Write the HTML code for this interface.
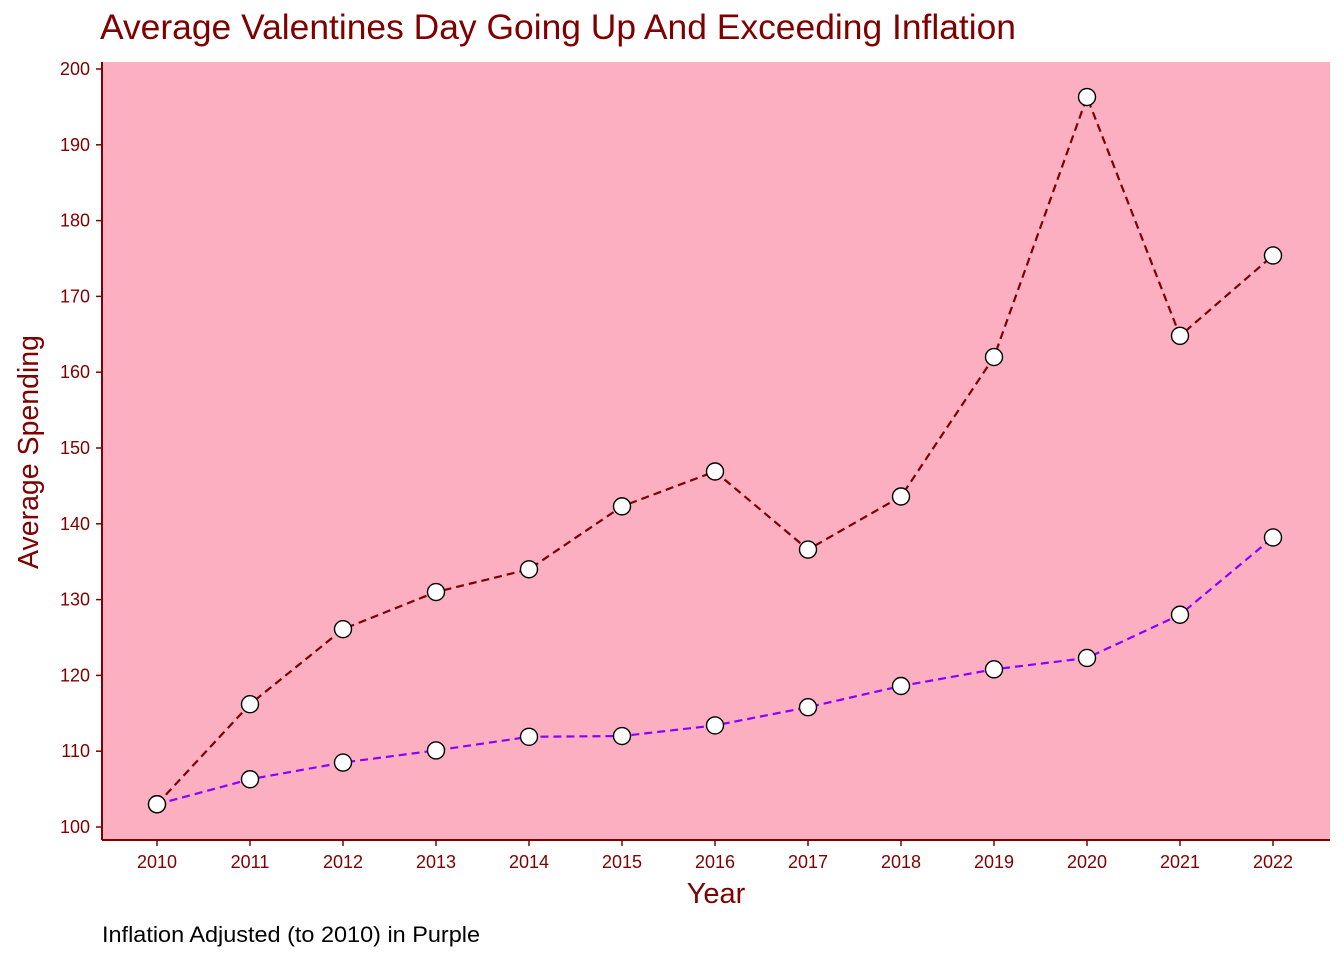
<!DOCTYPE html>
<html><head><meta charset="utf-8">
<style>
html,body{margin:0;padding:0;background:#fff;}
svg{display:block;font-family:"Liberation Sans",Arial,sans-serif;}
</style></head>
<body>
<svg id="chart" width="1344" height="960" xmlns="http://www.w3.org/2000/svg">
<rect x="102" y="62" width="1228" height="778" fill="#fcafc0"/>
<text x="100" y="39" font-size="35" fill="#7f0000" textLength="916" lengthAdjust="spacingAndGlyphs">Average Valentines Day Going Up And Exceeding Inflation</text>
<text x="716" y="903" font-size="29" fill="#7f0000" text-anchor="middle">Year</text>
<text transform="translate(38,452) rotate(-90)" font-size="28.5" fill="#7f0000" text-anchor="middle">Average Spending</text>
<text x="102" y="942" font-size="22" fill="#000" textLength="378" lengthAdjust="spacingAndGlyphs">Inflation Adjusted (to 2010) in Purple</text>
<g id="axes"></g>
<g id="series"></g>
</svg>
<script>
const years = [2010,2011,2012,2013,2014,2015,2016,2017,2018,2019,2020,2021,2022];
const spending = [103,116.2,126.1,131,134,142.3,146.9,136.6,143.6,162.0,196.3,164.8,175.4];
const inflationAdjusted = [103,106.3,108.5,110.1,111.9,112.0,113.4,115.8,118.6,120.8,122.3,128.0,138.2];
const yTicks = [100,110,120,130,140,150,160,170,180,190,200];

const NS="http://www.w3.org/2000/svg";
const xS = y => 157 + (y-2010)*(1273-157)/12;
const yS = v => 827 - (v-100)*(827-69)/100;
function mk(tag, attrs, parent){const e=document.createElementNS(NS,tag);for(const k in attrs)e.setAttribute(k,attrs[k]);parent.appendChild(e);return e;}
const axes=document.getElementById('axes'), ser=document.getElementById('series');
const dark="#7f0000";
let a=mk('line',{x1:102,y1:62,x2:102,y2:840,stroke:dark,'stroke-width':2},axes);


a=mk('line',{x1:102,y1:840,x2:1330,y2:840,stroke:dark,'stroke-width':2},axes);


yTicks.forEach(t=>{
  const y=yS(t);
  const l=mk('line',{x1:96,y1:y,x2:102,y2:y,stroke:dark,'stroke-width':1.5},axes);
  
  
  const tx=mk('text',{x:90,y:y+6,'font-size':18,fill:dark,'text-anchor':'end'},axes);
  tx.textContent=t;
  
  
});
years.forEach(yr=>{
  const x=xS(yr);
  const l=mk('line',{x1:x,y1:840,x2:x,y2:846,stroke:dark,'stroke-width':1.5},axes);
  
  
  const tx=mk('text',{x:x,y:868,'font-size':18,fill:dark,'text-anchor':'middle'},axes);
  tx.textContent=yr;
  
  
});
function drawSeries(vals,color,name){
  const p=mk('polyline',{points:vals.map((v,i)=>xS(years[i])+','+yS(v)).join(' '),fill:'none',stroke:color,'stroke-width':2.2,'stroke-dasharray':'8,5'},ser);
  
  
  vals.forEach((v,i)=>{
    const c=mk('circle',{cx:xS(years[i]),cy:yS(v),r:8.5,fill:'#fff',stroke:'#000','stroke-width':1.4},ser);
    
    
  });
}
drawSeries(inflationAdjusted,'#8b00ff','inflation-adjusted');
drawSeries(spending,dark,'average-spending');
</script>
</body></html>
